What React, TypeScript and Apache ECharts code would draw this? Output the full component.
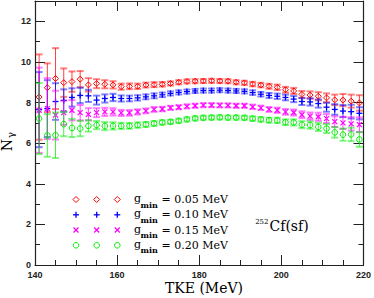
import React, { useEffect, useRef } from "react";
import * as echarts from "echarts";

const tke = [141, 143, 145, 147, 149, 151, 153, 155, 157, 159, 161, 163, 165, 167, 169, 171, 173, 175, 177, 179,
  181, 183, 185, 187, 189, 191, 193, 195, 197, 199, 201, 203, 205, 207, 209, 211, 213, 215, 217, 219];

const ng005 = [8.27, 8.73, 9.18, 8.98, 9.03, 9.15, 8.87, 8.93, 8.90, 8.87, 8.78, 8.80, 8.80, 8.86, 8.88, 8.90, 8.94, 9.00, 9.04, 9.05,
  9.06, 9.07, 9.06, 9.05, 9.00, 8.97, 8.91, 8.86, 8.80, 8.75, 8.63, 8.57, 8.40, 8.37, 8.31, 8.23, 8.13, 8.12, 8.07, 7.98];
const err005 = [2.1, 1.2, 1.5, 0.7, 0.5, 0.4, 0.33, 0.22, 0.2, 0.18, 0.15, 0.14, 0.13, 0.12, 0.12, 0.11, 0.1, 0.1, 0.1, 0.1,
  0.1, 0.1, 0.1, 0.1, 0.1, 0.1, 0.11, 0.11, 0.12, 0.13, 0.14, 0.15, 0.17, 0.18, 0.2, 0.22, 0.26, 0.3, 0.32, 0.38];

const ng010 = [7.65, 7.70, 8.05, 8.10, 8.25, 8.35, 8.33, 8.12, 8.20, 8.25, 8.20, 8.20, 8.23, 8.28, 8.33, 8.38, 8.45, 8.50, 8.54, 8.57,
  8.59, 8.59, 8.61, 8.59, 8.57, 8.55, 8.49, 8.41, 8.35, 8.31, 8.25, 8.17, 8.05, 8.03, 7.95, 7.77, 7.66, 7.58, 7.55, 7.47];
const err010 = [1.85, 1.4, 0.9, 0.55, 0.45, 0.38, 0.3, 0.22, 0.2, 0.18, 0.15, 0.14, 0.13, 0.12, 0.12, 0.11, 0.1, 0.1, 0.1, 0.1,
  0.1, 0.1, 0.1, 0.1, 0.1, 0.1, 0.11, 0.11, 0.12, 0.13, 0.14, 0.15, 0.17, 0.18, 0.2, 0.22, 0.26, 0.3, 0.34, 0.3];

const ng015 = [7.62, 7.70, 7.38, 7.50, 7.62, 7.50, 7.42, 7.50, 7.54, 7.54, 7.49, 7.49, 7.54, 7.59, 7.66, 7.68, 7.74, 7.77, 7.81, 7.84,
  7.87, 7.87, 7.86, 7.86, 7.84, 7.84, 7.79, 7.74, 7.66, 7.62, 7.54, 7.51, 7.40, 7.33, 7.30, 7.21, 7.06, 7.00, 6.95, 6.91];
const err015 = [2.1, 1.5, 1.2, 0.6, 0.5, 0.38, 0.3, 0.22, 0.2, 0.18, 0.15, 0.14, 0.13, 0.12, 0.12, 0.11, 0.1, 0.1, 0.1, 0.1,
  0.1, 0.1, 0.1, 0.1, 0.1, 0.1, 0.11, 0.11, 0.12, 0.13, 0.14, 0.15, 0.17, 0.18, 0.2, 0.22, 0.26, 0.3, 0.33, 0.36];

const ng020 = [7.21, 6.38, 6.39, 6.94, 6.75, 6.72, 6.85, 6.89, 6.84, 6.85, 6.85, 6.85, 6.89, 6.92, 6.97, 7.02, 7.05, 7.10, 7.17, 7.22,
  7.25, 7.26, 7.27, 7.26, 7.26, 7.25, 7.21, 7.17, 7.13, 7.12, 7.03, 7.02, 6.91, 6.89, 6.80, 6.72, 6.53, 6.42, 6.43, 6.18];
const err020 = [1.75, 1.05, 1.12, 0.6, 0.45, 0.38, 0.28, 0.2, 0.2, 0.18, 0.15, 0.14, 0.13, 0.12, 0.12, 0.11, 0.1, 0.1, 0.1, 0.1,
  0.1, 0.1, 0.1, 0.1, 0.1, 0.1, 0.11, 0.11, 0.12, 0.13, 0.14, 0.15, 0.17, 0.18, 0.2, 0.22, 0.26, 0.3, 0.33, 0.36];

const seriesNames = ["0.05", "0.10", "0.15", "0.20"];
const seriesColors = ["#ff0000", "#0000ff", "#ff00ff", "#00ee00"];
const seriesMarkers = ["diamond", "plus", "cross", "circle"];
const seriesValues = [ng005, ng010, ng015, ng020];
const seriesErrors = [err005, err010, err015, err020];

const yMajorTicks = [0, 2, 4, 6, 8, 10, 12];
const xMajorTicks = [140, 160, 180, 200, 220];

function markerShapes(kind: string, cx: number, cy: number, color: string): any[] {
  const st = { stroke: color, lineWidth: 1, fill: "none" };
  if (kind === "diamond") {
    const s = 3;
    return [{ type: "polygon", shape: { points: [[cx, cy - s], [cx + s, cy], [cx, cy + s], [cx - s, cy]] }, style: st }];
  }
  if (kind === "circle") {
    return [{ type: "circle", shape: { cx, cy, r: 2.8 }, style: st }];
  }
  if (kind === "plus") {
    const s = 3;
    return [
      { type: "line", shape: { x1: cx - s, y1: cy, x2: cx + s, y2: cy }, style: { stroke: color, lineWidth: 1.3 } },
      { type: "line", shape: { x1: cx, y1: cy - s, x2: cx, y2: cy + s }, style: { stroke: color, lineWidth: 1.3 } },
    ];
  }
  const s = 2.5;
  return [
    { type: "line", shape: { x1: cx - s, y1: cy - s, x2: cx + s, y2: cy + s }, style: { stroke: color, lineWidth: 1.2 } },
    { type: "line", shape: { x1: cx - s, y1: cy + s, x2: cx + s, y2: cy - s }, style: { stroke: color, lineWidth: 1.2 } },
  ];
}

function makeRender(color: string, kind: string) {
  return (params: any, api: any) => {
    const x = api.value(0);
    const y = api.value(1);
    const e = api.value(2);
    const p = api.coord([x, y]);
    const t = api.coord([x, y + e]);
    const b = api.coord([x, y - e]);
    const cw = 3.5;
    const children: any[] = [
      { type: "line", shape: { x1: p[0], y1: t[1], x2: p[0], y2: b[1] }, style: { stroke: color, lineWidth: 1, opacity: 0.75 } },
      { type: "line", shape: { x1: p[0] - cw, y1: t[1], x2: p[0] + cw, y2: t[1] }, style: { stroke: color, lineWidth: 2, opacity: 0.5 } },
      { type: "line", shape: { x1: p[0] - cw, y1: b[1], x2: p[0] + cw, y2: b[1] }, style: { stroke: color, lineWidth: 2, opacity: 0.5 } },
      ...markerShapes(kind, p[0], p[1], color),
    ];
    return { type: "group", children };
  };
}

const axisColor = "#222";
const labelFont = { fontSize: 9, fontWeight: "bold" as const, color: "#222", fontFamily: "Liberation Sans" };

function txt(text: string, x: number, y: number, font: string, align = "left", vAlign = "middle"): any {
  return {
    type: "text",
    x,
    y,
    style: { text, font, fill: "#000", textAlign: align, textVerticalAlign: vAlign, align, verticalAlign: vAlign },
  };
}

export default function App() {
  const ref = useRef<HTMLDivElement>(null);
  useEffect(() => {
    if (!ref.current) return;
    const chart = echarts.init(ref.current, null, { renderer: "svg" });

    const legendRows = [199.5, 214.8, 230, 245.3];
    const legendXs = [76, 96.7, 117.3];
    const graphics: any[] = [];
    legendRows.forEach((ry, i) => {
      legendXs.forEach((lx) => {
        markerShapes(seriesMarkers[i], lx, ry, seriesColors[i]).forEach((s) => graphics.push(s));
      });
      graphics.push(txt("g", 134, ry - 1, '11px "DejaVu Serif"'));
      graphics.push(txt("min", 140.5, ry + 5, 'bold 8px "DejaVu Serif"'));
      graphics.push(txt("= " + seriesNames[i] + " MeV", 161.5, ry, '11px "DejaVu Serif"'));
    });
    graphics.push(txt("252", 268.5, 222, '7px "DejaVu Serif"', "right"));
    graphics.push(txt("Cf(sf)", 269.5, 226, '14px "DejaVu Serif"'));
    graphics.push(txt("TKE (MeV)", 204, 288, '14px "DejaVu Serif"', "center"));
    graphics.push({
      type: "group",
      x: 7,
      y: 140,
      rotation: Math.PI / 2,
      children: [
        txt("N", -5, 0, '14px "DejaVu Serif"', "center"),
        txt("γ", 5, 3, '10px "DejaVu Serif"', "center"),
      ],
    });

    const xBase = {
      type: "value" as const,
      min: xMajorTicks[0],
      max: xMajorTicks[xMajorTicks.length - 1],
      interval: 20,
      splitLine: { show: false },
      axisLine: { onZero: false, lineStyle: { color: axisColor, width: 1.2 } },
      axisTick: { inside: true, length: 10, lineStyle: { color: axisColor } },
      minorTick: { show: true, splitNumber: 4, length: 5, lineStyle: { color: axisColor } },
    };
    const yBase = (interval: number, len: number, pos: "left" | "right", labels: boolean, line: boolean) => ({
      type: "value" as const,
      min: yMajorTicks[0],
      max: 13,
      interval,
      position: pos,
      splitLine: { show: false },
      axisLine: { show: line, onZero: false, lineStyle: { color: axisColor, width: 1.2 } },
      axisTick: { inside: true, length: len, lineStyle: { color: axisColor } },
      axisLabel: { show: labels, margin: 4, showMaxLabel: false, ...labelFont },
    });

    chart.setOption({
      animation: false,
      grid: { left: 35, right: 8, top: 1, bottom: 33, containLabel: false },
      xAxis: [
        { ...xBase, position: "bottom", axisLabel: { margin: 5, ...labelFont } },
        { ...xBase, position: "top", axisLabel: { show: false } },
      ],
      yAxis: [
        yBase(2, 10, "left", true, true),
        yBase(1, 5, "left", false, false),
        yBase(2, 10, "right", false, true),
        yBase(1, 5, "right", false, false),
      ],
      graphic: graphics,
      series: seriesValues.map((vals, i) => ({
        type: "custom",
        name: seriesNames[i],
        xAxisIndex: 0,
        yAxisIndex: 0,
        renderItem: makeRender(seriesColors[i], seriesMarkers[i]),
        data: tke.map((x, j) => [x, vals[j], seriesErrors[i][j]]),
        clip: true,
      })),
    });
    return () => chart.dispose();
  }, []);
  return (
    <div
      ref={ref}
      style={{ position: "fixed", left: 0, top: 0, width: 374, height: 298, background: "#fff" }}
    />
  );
}
